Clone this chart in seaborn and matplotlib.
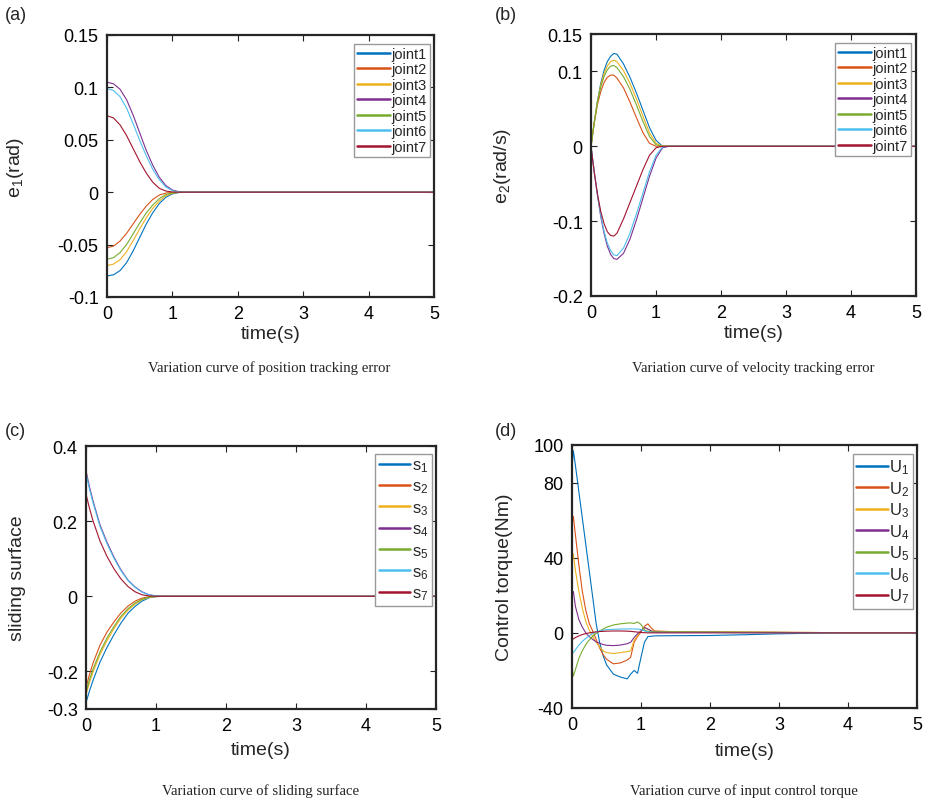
import numpy as np
import pandas as pd
import matplotlib
matplotlib.use("Agg")
import matplotlib.pyplot as plt
import seaborn as sns

# ---------------- data ----------------
colors = ["#0072BD", "#D95319", "#EDB120", "#7E2F8E", "#77AC30", "#4DBEEE", "#A2142F"]

# (a) position tracking error
t_a = [0, 0.1, 0.2, 0.3, 0.4, 0.5, 0.6, 0.7, 0.8, 0.9, 1.0, 1.1, 1.2, 5.0]
e1_joint1 = [-0.080, -0.0788, -0.0748, -0.0672, -0.056, -0.0432, -0.0304, -0.0196, -0.0108, -0.0048, -0.0016, -0.0003, 0, 0]
e1_joint2 = [-0.053, -0.0514, -0.0466, -0.0392, -0.0302, -0.0212, -0.0133, -0.0069, -0.0027, -0.0008, -0.0002, 0, 0, 0]
e1_joint3 = [-0.070, -0.0686, -0.0644, -0.0567, -0.0462, -0.035, -0.0245, -0.0154, -0.0084, -0.0035, -0.001, -0.0001, 0, 0]
e1_joint4 = [0.105, 0.1034, 0.0982, 0.0882, 0.0735, 0.0567, 0.0399, 0.0257, 0.0142, 0.0063, 0.0021, 0.0004, 0, 0]
e1_joint5 = [-0.064, -0.0624, -0.0576, -0.0499, -0.0397, -0.0294, -0.0198, -0.0122, -0.0061, -0.0022, -0.0006, 0, 0, 0]
e1_joint6 = [0.099, 0.097, 0.0911, 0.0802, 0.0653, 0.0495, 0.0347, 0.0218, 0.0119, 0.005, 0.0015, 0.0002, 0, 0]
e1_joint7 = [0.073, 0.0708, 0.0642, 0.054, 0.0416, 0.0292, 0.0183, 0.0095, 0.0037, 0.0011, 0.0002, 0, 0, 0]

# (b) velocity tracking error
t_b = [0, 0.025, 0.05, 0.1, 0.15, 0.2, 0.25, 0.3, 0.35, 0.4, 0.5, 0.6, 0.7, 0.8, 0.9, 1.0, 1.1, 1.2, 5.0]
e2_joint1 = [0, 0.016, 0.032, 0.061, 0.084, 0.101, 0.113, 0.120, 0.124, 0.123, 0.110, 0.092, 0.071, 0.048, 0.025, 0.008, 0, 0, 0]
e2_joint2 = [0, 0.016, 0.031, 0.056, 0.073, 0.085, 0.092, 0.095, 0.095, 0.091, 0.078, 0.059, 0.038, 0.018, 0.004, 0, 0, 0, 0]
e2_joint3 = [0, 0.016, 0.032, 0.060, 0.082, 0.097, 0.107, 0.113, 0.115, 0.113, 0.101, 0.084, 0.063, 0.040, 0.018, 0.004, 0, 0, 0]
e2_joint4 = [0, -0.017, -0.034, -0.066, -0.094, -0.116, -0.133, -0.144, -0.150, -0.151, -0.143, -0.124, -0.098, -0.069, -0.040, -0.016, -0.002, 0, 0]
e2_joint5 = [0, 0.016, 0.032, 0.059, 0.079, 0.093, 0.102, 0.107, 0.108, 0.105, 0.093, 0.076, 0.055, 0.033, 0.013, 0.002, 0, 0, 0]
e2_joint6 = [0, -0.017, -0.034, -0.065, -0.092, -0.113, -0.129, -0.139, -0.145, -0.146, -0.136, -0.116, -0.090, -0.062, -0.034, -0.012, -0.001, 0, 0]
e2_joint7 = [0, -0.018, -0.035, -0.064, -0.087, -0.103, -0.114, -0.119, -0.120, -0.116, -0.097, -0.075, -0.053, -0.031, -0.012, -0.002, 0, 0, 0]

# (c) sliding surface
t_c = [0, 0.05, 0.1, 0.2, 0.3, 0.4, 0.5, 0.6, 0.7, 0.8, 0.9, 1.0, 1.1, 5.0]
s_1 = [-0.283, -0.252, -0.224, -0.175, -0.136, -0.102, -0.071, -0.045, -0.027, -0.013, -0.004, -0.001, 0, 0]
s_2 = [-0.243, -0.208, -0.178, -0.130, -0.095, -0.068, -0.044, -0.026, -0.013, -0.005, -0.001, 0, 0, 0]
s_3 = [-0.262, -0.229, -0.202, -0.155, -0.118, -0.086, -0.058, -0.037, -0.021, -0.009, -0.003, -0.001, 0, 0]
s_4 = [0.334, 0.291, 0.254, 0.190, 0.144, 0.104, 0.070, 0.043, 0.025, 0.012, 0.004, 0.001, 0, 0]
s_5 = [-0.255, -0.222, -0.194, -0.148, -0.111, -0.080, -0.053, -0.033, -0.018, -0.008, -0.002, 0, 0, 0]
s_6 = [0.328, 0.285, 0.249, 0.186, 0.140, 0.101, 0.068, 0.042, 0.024, 0.011, 0.004, 0.001, 0, 0]
s_7 = [0.272, 0.234, 0.201, 0.147, 0.106, 0.073, 0.046, 0.026, 0.012, 0.004, 0.001, 0, 0, 0]

# (d) control torque
t_d = [0, 0.02, 0.05, 0.1, 0.15, 0.2, 0.25, 0.3, 0.35, 0.4, 0.45, 0.5, 0.6, 0.7, 0.8,
       0.85, 0.9, 0.95, 1.0, 1.05, 1.1, 1.15, 1.2, 1.5, 2.0, 2.5, 3.0, 3.5, 4.0, 5.0]
U_1 = [88, 97, 89, 75, 61, 47, 33, 19, 5, -5, -12, -17, -22, -23.5, -24.5,
       -22, -20, -21.5, -13, -5, -2, -1.8, -1.6, -1.5, -1.4, -1.0, -0.5, -0.2, 0, 0]
U_2 = [58, 62, 52, 36, 22, 12, 5, 1, -3.5, -8, -11.5, -14, -16.5, -16, -14.5,
       -13, -5, -2, 0.5, 3.5, 4.8, 2.5, 1, 0.6, 0.5, 0.4, 0.3, 0.2, 0, 0]
U_3 = [40, 42, 33, 22, 13, 6, 1.5, -2, -5, -7.5, -9.5, -10.5, -11, -10.5, -10,
       -9.5, -4, -1.5, 1, 3, 2, 1, 0.8, 0.6, 0.5, 0.4, 0.3, 0.2, 0, 0]
U_4 = [20, 22, 14, 7, 3, 0, -2, -3.5, -4.8, -5.5, -6.2, -6.6, -6.8, -6.5, -5.8,
       -5, -2.5, -0.5, 1, 2.8, 2, 1, 0.5, 0.3, 0.3, 0.2, 0.2, 0.1, 0, 0]
U_5 = [-19, -23, -19.5, -13.5, -9.5, -6.2, -3.8, -1.8, -0.3, 1, 2, 3, 4.2, 4.8, 5.2,
       5.3, 5, 5.8, 4.5, 1.5, 0.8, 0.6, 0.5, 0.5, 0.4, 0.3, 0.2, 0.1, 0, 0]
U_6 = [-10, -10.5, -9, -6.5, -4.5, -3, -1.5, -0.3, 0.5, 1, 1.4, 1.7, 1.9, 2, 2.1,
       2.1, 2.1, 2, 1.8, 1, 0.5, 0.3, 0.2, 0.2, 0.2, 0.1, 0.1, 0, 0, 0]
U_7 = [-3.5, -3.2, -2.5, -1.6, -0.9, -0.4, 0, 0.3, 0.5, 0.7, 0.8, 0.9, 1, 1, 0.9,
       0.8, 0.6, 0.4, 0.2, 0.1, 0, 0, 0, 0, 0, 0, 0, 0, 0, 0]

labels_a = ["joint1", "joint2", "joint3", "joint4", "joint5", "joint6", "joint7"]
labels_c = ["s$_1$", "s$_2$", "s$_3$", "s$_4$", "s$_5$", "s$_6$", "s$_7$"]
labels_d = ["U$_1$", "U$_2$", "U$_3$", "U$_4$", "U$_5$", "U$_6$", "U$_7$"]

xticks = [0, 1, 2, 3, 4, 5]
yticks_a = [-0.1, -0.05, 0, 0.05, 0.1, 0.15]
yticklabels_a = ["-0.1", "-0.05", "0", "0.05", "0.1", "0.15"]
yticks_b = [-0.2, -0.1, 0, 0.1, 0.15]
yticklabels_b = ["-0.2", "-0.1", "0", "0.1", "0.15"]
yticks_c = [-0.3, -0.2, 0, 0.2, 0.4]
yticklabels_c = ["-0.3", "-0.2", "0", "0.2", "0.4"]
yticks_d = [-40, 0, 40, 80, 100]
yticklabels_d = ["-40", "0", "40", "80", "100"]

# ---------------- style ----------------
sns.set_style("ticks")
plt.rcParams["font.family"] = ["Liberation Sans", "DejaVu Sans"]
plt.rcParams["mathtext.default"] = "regular"
plt.rcParams["axes.unicode_minus"] = False

fig = plt.figure(figsize=(9.32, 8.04), dpi=100)
W, H = 932, 804


def ax_at(l, r, t, b):
    return fig.add_axes([l / W, 1 - b / H, (r - l) / W, (b - t) / H])


def build_df(t, series, labels):
    frames = []
    for s, lab in zip(series, labels):
        frames.append(pd.DataFrame({"t": t, "v": s, "name": lab}))
    return pd.concat(frames, ignore_index=True)


def panel(ax, t, series, labels, ylim, yticks, yticklabels, ylabel, ylabel_x,
          xlabel_pad, legend_anchor, leg_fs, labelspacing, handlelength):
    df = build_df(t, series, labels)
    sns.lineplot(data=df, x="t", y="v", hue="name", palette=colors, hue_order=labels,
                 ax=ax, legend=False, linewidth=0.8, sort=False, estimator=None)
    ax.set_xlim(0, 5)
    ax.set_ylim(*ylim)
    ax.set_xticks(xticks)
    ax.set_xticklabels([str(x) for x in xticks])
    ax.set_yticks(yticks)
    ax.set_yticklabels(yticklabels)
    ax.tick_params(direction="in", length=4, width=0.8, top=True, right=True,
                   labelsize=13, pad=6, colors="#222222", labelcolor="black")
    for sp in ax.spines.values():
        sp.set_linewidth(1.6)
        sp.set_color("#262626")
        sp.set_visible(True)
    ax.set_xlabel("time(s)", fontsize=14, labelpad=xlabel_pad)
    ax.set_ylabel(ylabel, fontsize=14)
    ax.yaxis.set_label_coords(ylabel_x, 0.5)
    lines = ax.get_lines()[:len(labels)]
    leg = ax.legend(lines, labels, loc="upper right", bbox_to_anchor=legend_anchor,
                    fontsize=leg_fs, frameon=True, fancybox=False, framealpha=1,
                    edgecolor="#999999", handlelength=handlelength, handletextpad=0.1,
                    labelspacing=labelspacing, borderpad=0.2, borderaxespad=0)
    leg.get_frame().set_linewidth(1.0)
    for ln in leg.get_lines():
        ln.set_linewidth(1.8)
    return ax


ax_a = ax_at(107, 434, 36, 298)
panel(ax_a, t_a, [e1_joint1, e1_joint2, e1_joint3, e1_joint4, e1_joint5, e1_joint6, e1_joint7],
      labels_a, (-0.1, 0.15), yticks_a, yticklabels_a, "e$_1$(rad)", -0.248, 2,
      (1 - 4 / 327, 1 - 9 / 262), 10.5, 0.1, 2.3)

ax_b = ax_at(591, 916, 35, 297)
panel(ax_b, t_b, [e2_joint1, e2_joint2, e2_joint3, e2_joint4, e2_joint5, e2_joint6, e2_joint7],
      labels_a, (-0.2, 0.15), yticks_b, yticklabels_b, "e$_2$(rad/s)", -0.24, 2,
      (1 - 5 / 325, 1 - 9 / 262), 10.5, 0.1, 2.3)

ax_c = ax_at(86, 436, 447, 710)
panel(ax_c, t_c, [s_1, s_2, s_3, s_4, s_5, s_6, s_7],
      labels_c, (-0.3, 0.4), yticks_c, yticklabels_c, "sliding surface", -0.171, 5,
      (1 - 4 / 350, 1 - 8 / 263), 12, 0.28, 1.9)

ax_d = ax_at(572, 917, 446, 709)
panel(ax_d, t_d, [U_1, U_2, U_3, U_4, U_5, U_6, U_7],
      labels_d, (-40, 100), yticks_d, yticklabels_d, "Control torque(Nm)", -0.171, 6,
      (1 - 4 / 345, 1 - 9 / 263), 12, 0.17, 1.9)

# panel letters
for txt, x, y in [("(a)", 5, 16), ("(b)", 495, 16), ("(c)", 5, 432), ("(d)", 495, 432)]:
    fig.text(x / W, 1 - y / H, txt, fontsize=13, ha="left", va="center")

# captions
serif = ["Liberation Serif", "DejaVu Serif"]
for txt, cx, cy in [("Variation curve of position tracking error", 269, 368),
                    ("Variation curve of velocity tracking error", 753, 368),
                    ("Variation curve of sliding surface", 261, 791),
                    ("Variation curve of input control torque", 744, 791)]:
    fig.text(cx / W, 1 - cy / H, txt, fontsize=10.6, family=serif, ha="center", va="center")

fig.savefig("out.png", dpi=100)
